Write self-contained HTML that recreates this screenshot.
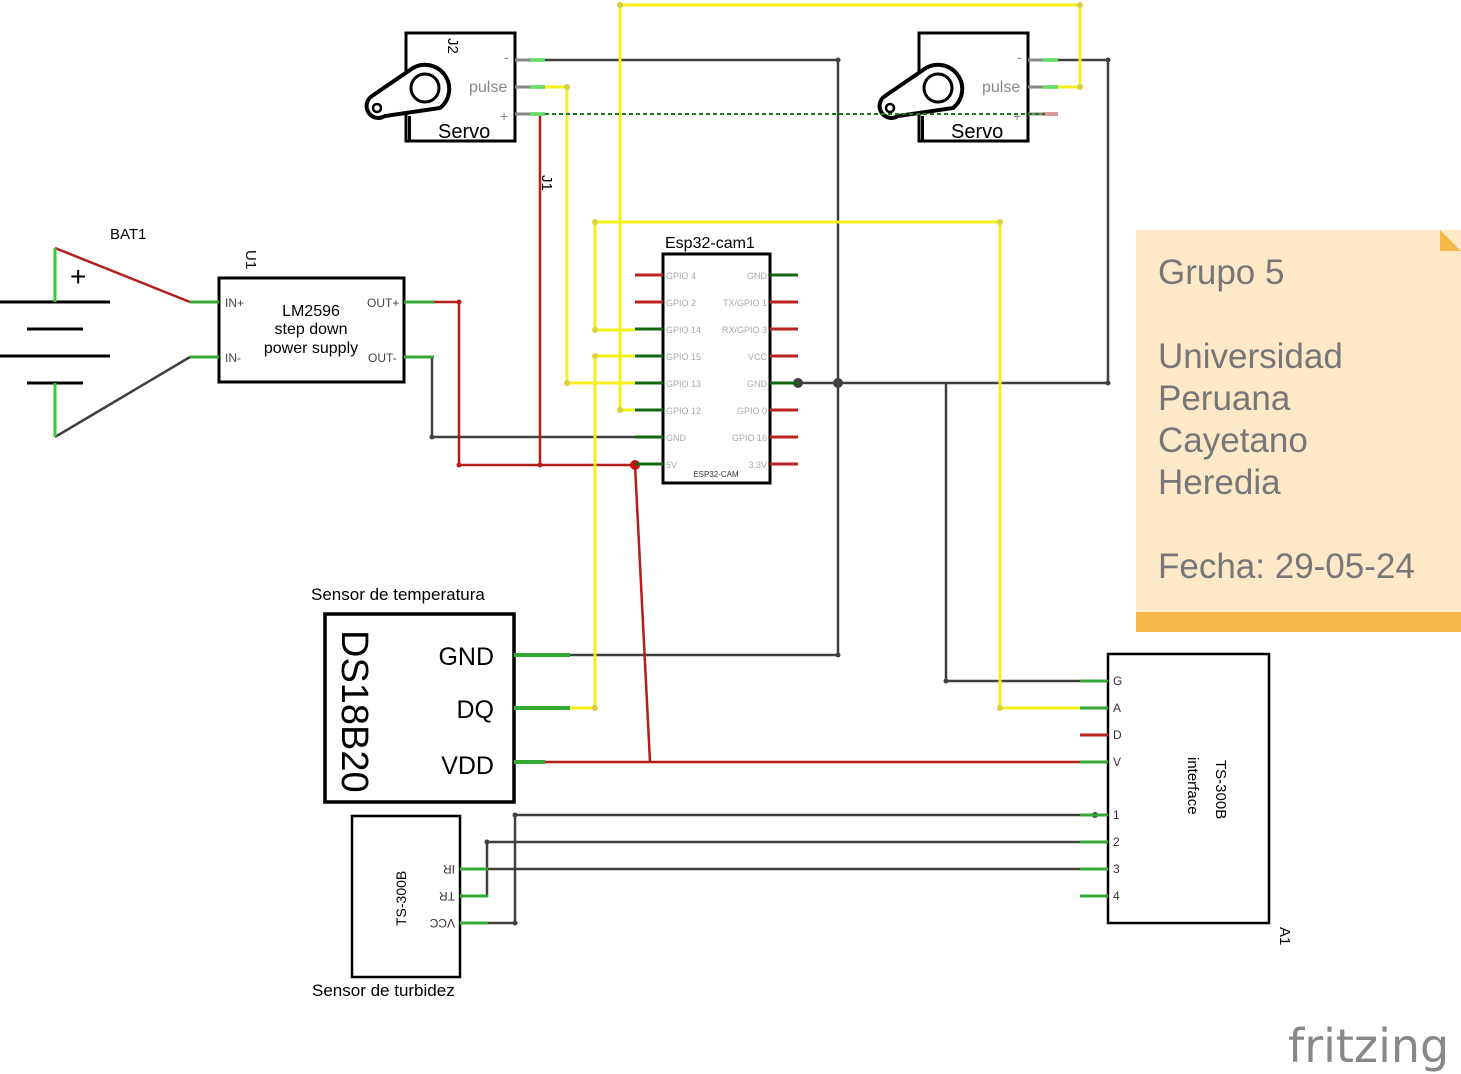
<!DOCTYPE html>
<html><head><meta charset="utf-8"><style>
html,body{margin:0;padding:0;background:#fff;}
svg{display:block;font-family:"Liberation Sans","DejaVu Sans",sans-serif;}
</style></head><body>
<svg width="1461" height="1074" viewBox="0 0 1461 1074" xmlns="http://www.w3.org/2000/svg">
<rect width="1461" height="1074" fill="#fff"/>

<!-- Note -->
<rect x="1136" y="230" width="325" height="402" fill="#fde8c8"/>
<rect x="1136" y="612" width="325" height="20" fill="#f7b84a"/>
<polygon points="1440,230 1461,251 1440,251" fill="#f7b84a"/>
<g fill="#777" font-size="35">
<text x="1158" y="284">Grupo 5</text>
<text x="1158" y="368">Universidad</text>
<text x="1158" y="410">Peruana</text>
<text x="1158" y="452">Cayetano</text>
<text x="1158" y="494">Heredia</text>
<text x="1158" y="578">Fecha: 29-05-24</text>
</g>
<text x="1288" y="1062" font-size="46" fill="#888" font-family="DejaVu Sans,sans-serif" letter-spacing="0">fritzing</text>

<!-- Wires: dark -->
<g stroke="#404040" stroke-width="2.5" fill="none">
<polyline points="545,60 838,60 838,655 515,655"/>
<polyline points="1045,60 1108,60 1108,383 798,383"/>
<polyline points="946,383 946,681 1085,681"/>
<polyline points="635,437 432,437 432,357 434,357"/>
<line x1="55" y1="437" x2="190" y2="357"/>
<polyline points="1085,815 515,815 515,923 485,923"/>
<polyline points="1085,842 487,842 487,896 485,896"/>
<line x1="485" y1="869" x2="1085" y2="869"/>
</g>
<g fill="#404040">
<circle cx="798" cy="383" r="5"/><circle cx="838" cy="383" r="5"/>
<circle cx="1108" cy="60" r="2.5"/><circle cx="1108" cy="383" r="2.5"/><circle cx="838" cy="60" r="2.5"/><circle cx="838" cy="655" r="2.5"/>
<circle cx="946" cy="681" r="2.5"/><circle cx="432" cy="437" r="2.5"/><circle cx="515" cy="815" r="2.5"/><circle cx="515" cy="923" r="2.5"/><circle cx="487" cy="842" r="2.5"/><circle cx="1095" cy="815" r="3"/>
</g>

<!-- Wires: red -->
<g stroke="#b51c1c" stroke-width="2.5" fill="none">
<line x1="55" y1="248" x2="190" y2="302"/>
<polyline points="434,302 459,302 459,465 635,465"/>
<line x1="540" y1="114" x2="540" y2="465"/>
<line x1="635" y1="465" x2="650" y2="762"/>
<line x1="515" y1="762" x2="1085" y2="762"/>
</g>
<circle cx="635" cy="465" r="5" fill="#c11"/>
<circle cx="540" cy="465" r="2.5" fill="#b51c1c"/><circle cx="459" cy="465" r="2.5" fill="#b51c1c"/><circle cx="459" cy="302" r="2.5" fill="#b51c1c"/>

<!-- Yellow -->
<g stroke="#f5ef1a" stroke-width="3" fill="none">
<polyline points="545,87 567,87 567,383 635,383"/>
<polyline points="635,410 620,410 620,5 1080,5 1080,87 1045,87"/>
<polyline points="635,330 595,330 595,222 1000,222 1000,708 1085,708"/>
<polyline points="635,356 595,356 595,708 540,708"/>
</g>
<g fill="#d8d040"><circle cx="567" cy="87" r="3"/><circle cx="567" cy="383" r="3"/><circle cx="620" cy="410" r="3"/><circle cx="1080" cy="87" r="3"/><circle cx="1080" cy="5" r="3"/><circle cx="620" cy="5" r="3"/><circle cx="595" cy="330" r="3"/><circle cx="595" cy="222" r="3"/><circle cx="1000" cy="222" r="3"/><circle cx="1000" cy="708" r="3"/><circle cx="595" cy="356" r="3"/><circle cx="595" cy="708" r="3"/></g>

<!-- Battery -->
<g stroke="#000" stroke-width="3">
<line x1="0" y1="302" x2="110" y2="302"/><line x1="27" y1="329" x2="83" y2="329"/>
<line x1="0" y1="356" x2="110" y2="356"/><line x1="27" y1="383" x2="83" y2="383"/>
</g>
<g stroke="#3c3" stroke-width="3"><line x1="55" y1="248" x2="55" y2="302"/><line x1="55" y1="383" x2="55" y2="437"/></g>
<text x="70" y="286" font-size="28">+</text>
<text x="110" y="239" font-size="15">BAT1</text>

<!-- U1 -->
<rect x="219" y="278" width="185" height="104" fill="none" stroke="#000" stroke-width="3"/>
<g stroke="#3a3" stroke-width="3"><line x1="190" y1="302" x2="219" y2="302"/><line x1="190" y1="357" x2="219" y2="357"/><line x1="404" y1="302" x2="434" y2="302"/><line x1="404" y1="357" x2="434" y2="357"/></g>
<g font-size="12" fill="#444"><text x="225" y="307">IN+</text><text x="225" y="362">IN-</text><text x="367" y="307">OUT+</text><text x="368" y="362">OUT-</text></g>
<g font-size="16" text-anchor="middle"><text x="311" y="316">LM2596</text><text x="311" y="334">step down</text><text x="311" y="353">power supply</text></g>
<text transform="translate(246,250) rotate(90)" font-size="15">U1</text>

<!-- Servo 1 -->
<g id="servo">
<rect x="406" y="33" width="109" height="108" fill="#fff" stroke="#000" stroke-width="3"/>
<path d="M372,96 L410,70 A22,22 0 1 1 440,108 L385,116 A11,11 0 0 1 372,96 Z" fill="#fff" stroke="#000" stroke-width="4"/>
<circle cx="425" cy="88" r="14" fill="none" stroke="#000" stroke-width="3"/>
<circle cx="377" cy="108" r="4" fill="none" stroke="#000" stroke-width="2.5"/>
<rect x="408" y="116" width="3" height="25" fill="#000"/>
<g stroke="#888" stroke-width="3"><line x1="515" y1="60" x2="545" y2="60"/><line x1="515" y1="87" x2="545" y2="87"/><line x1="515" y1="114" x2="545" y2="114"/></g>
<g stroke="#6e6" stroke-width="4" opacity="0.8"><line x1="530" y1="60" x2="545" y2="60"/><line x1="530" y1="87" x2="545" y2="87"/></g>
<text x="438" y="138" font-size="20">Servo</text>
<text x="469" y="92" font-size="16" fill="#888">pulse</text>
<text x="500" y="121" font-size="14" fill="#888">+</text>
<text x="504" y="62" font-size="14" fill="#888">-</text>
</g>
<g stroke="#6e6" stroke-width="4" opacity="0.8"><line x1="530" y1="114" x2="545" y2="114"/></g>
<text transform="translate(448,38) rotate(90)" font-size="15">J2</text>
<text transform="translate(542,175) rotate(90)" font-size="15">J1</text>
<use href="#servo" x="513" y="0"/>
<line x1="1043" y1="114" x2="1058" y2="114" stroke="#d99" stroke-width="4"/>

<!-- green dashed (drawn over servo 2) -->
<line x1="545" y1="114" x2="1045" y2="114" stroke="#1a7a1a" stroke-width="2" stroke-dasharray="4,3"/>

<!-- ESP32 -->
<text x="665" y="248" font-size="16">Esp32-cam1</text>
<rect x="663" y="254" width="107" height="229" fill="#fff" stroke="#000" stroke-width="3"/>
<g stroke-width="3">
<line x1="635" y1="275" x2="663" y2="275" stroke="#b22"/><line x1="635" y1="302" x2="663" y2="302" stroke="#b22"/>
<line x1="635" y1="329" x2="663" y2="329" stroke="#161"/><line x1="635" y1="356" x2="663" y2="356" stroke="#161"/>
<line x1="635" y1="383" x2="663" y2="383" stroke="#161"/><line x1="635" y1="410" x2="663" y2="410" stroke="#161"/>
<line x1="635" y1="437" x2="663" y2="437" stroke="#161"/><line x1="635" y1="464" x2="663" y2="464" stroke="#161"/>
<line x1="770" y1="275" x2="798" y2="275" stroke="#161"/><line x1="770" y1="302" x2="798" y2="302" stroke="#b22"/>
<line x1="770" y1="329" x2="798" y2="329" stroke="#b22"/><line x1="770" y1="356" x2="798" y2="356" stroke="#b22"/>
<line x1="770" y1="383" x2="798" y2="383" stroke="#161"/><line x1="770" y1="410" x2="798" y2="410" stroke="#b22"/>
<line x1="770" y1="437" x2="798" y2="437" stroke="#b22"/><line x1="770" y1="464" x2="798" y2="464" stroke="#b22"/>
</g>
<g font-size="9" fill="#aaa">
<text x="666" y="279">GPIO 4</text><text x="666" y="306">GPIO 2</text><text x="666" y="333">GPIO 14</text><text x="666" y="360">GPIO 15</text><text x="666" y="387">GPIO 13</text><text x="666" y="414">GPIO 12</text><text x="666" y="441">GND</text><text x="666" y="468">5V</text>
<g text-anchor="end"><text x="767" y="279">GND</text><text x="767" y="306">TX/GPIO 1</text><text x="767" y="333">RX/GPIO 3</text><text x="767" y="360">VCC</text><text x="767" y="387">GND</text><text x="767" y="414">GPIO 0</text><text x="767" y="441">GPIO 16</text><text x="767" y="468">3.3V</text></g>
</g>
<text x="716" y="477" font-size="8" text-anchor="middle" fill="#333">ESP32-CAM</text>

<!-- DS18B20 -->
<text x="311" y="600" font-size="17">Sensor de temperatura</text>
<rect x="325" y="614" width="189" height="188" fill="#fff" stroke="#000" stroke-width="3.5"/>
<text transform="translate(342,630) rotate(90)" font-size="38">DS18B20</text>
<g font-size="25" text-anchor="end"><text x="494" y="665">GND</text><text x="494" y="718">DQ</text><text x="494" y="774">VDD</text></g>
<g stroke="#3a3" stroke-width="4"><line x1="514" y1="655" x2="570" y2="655"/><line x1="514" y1="708" x2="570" y2="708"/><line x1="514" y1="762" x2="545" y2="762"/></g>

<!-- Turbidity sensor -->
<rect x="352" y="816" width="108" height="161" fill="#fff" stroke="#000" stroke-width="2.5"/>
<text transform="translate(406,926) rotate(-90)" font-size="14">TS-300B</text>
<g font-size="12" fill="#333"><text transform="translate(455,865) rotate(180)">IR</text><text transform="translate(455,892) rotate(180)">TR</text><text transform="translate(455,919) rotate(180)">VCC</text></g>
<g stroke="#3a3" stroke-width="3"><line x1="460" y1="869" x2="488" y2="869"/><line x1="460" y1="896" x2="488" y2="896"/><line x1="460" y1="923" x2="488" y2="923"/></g>
<text x="312" y="996" font-size="17">Sensor de turbidez</text>

<!-- A1 -->
<rect x="1108" y="654" width="161" height="269" fill="#fff" stroke="#000" stroke-width="2.5"/>
<g stroke-width="3">
<line x1="1080" y1="681" x2="1108" y2="681" stroke="#3a3"/><line x1="1080" y1="708" x2="1108" y2="708" stroke="#3a3"/>
<line x1="1080" y1="735" x2="1108" y2="735" stroke="#b22"/><line x1="1080" y1="762" x2="1108" y2="762" stroke="#3a3"/>
<line x1="1080" y1="815" x2="1108" y2="815" stroke="#3a3"/><line x1="1080" y1="842" x2="1108" y2="842" stroke="#3a3"/>
<line x1="1080" y1="869" x2="1108" y2="869" stroke="#3a3"/><line x1="1080" y1="896" x2="1108" y2="896" stroke="#3a3"/>
</g>
<g font-size="12" fill="#333"><text x="1113" y="685">G</text><text x="1113" y="712">A</text><text x="1113" y="739">D</text><text x="1113" y="766">V</text><text x="1113" y="819">1</text><text x="1113" y="846">2</text><text x="1113" y="873">3</text><text x="1113" y="900">4</text></g>
<text transform="translate(1216,760) rotate(90)" font-size="15">TS-300B</text>
<text transform="translate(1188,757) rotate(90)" font-size="15">interface</text>
<text transform="translate(1280,927) rotate(90)" font-size="15">A1</text>
</svg>
</body></html>
